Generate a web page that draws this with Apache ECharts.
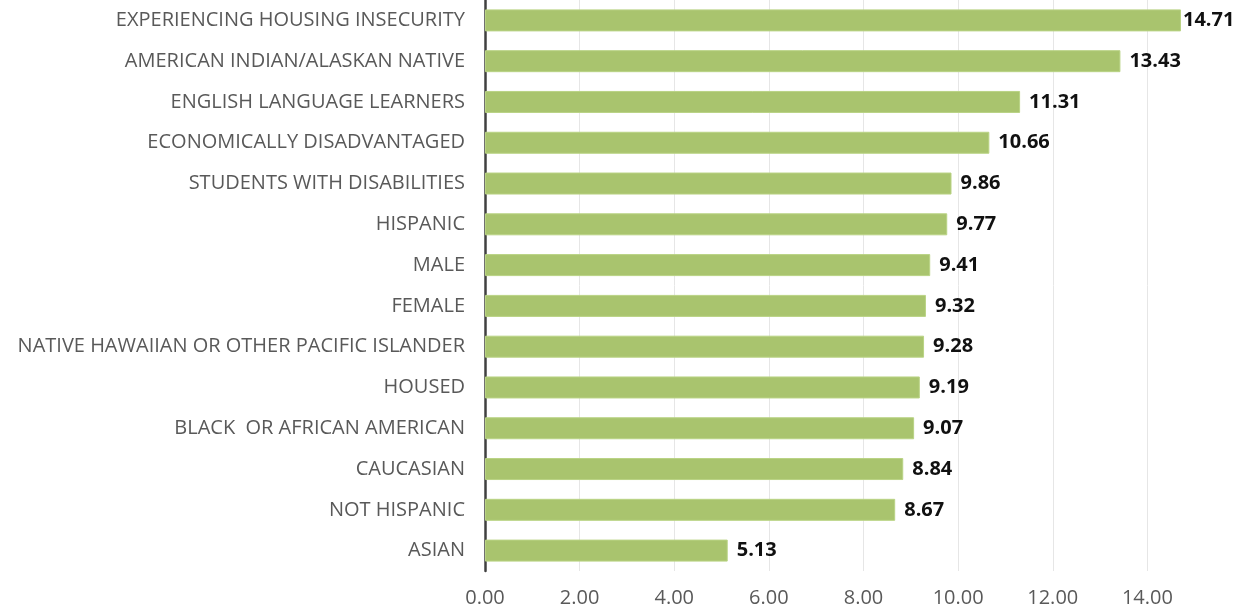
<!DOCTYPE html>
<html>
<head>
<meta charset="utf-8">
<script src="https://cdn.jsdelivr.net/npm/echarts@6/dist/echarts.min.js"></script>
<style>
  html, body { margin: 0; padding: 0; background: #ffffff; overflow: hidden; }
  /* the canvas is slightly wider than the page, so the last gridline at 16.00 falls just off-screen */
  #chart { width: 1243px; height: 614px; }
</style>
</head>
<body>
<div id="chart"></div>
<script>
// Student groups, listed top to bottom
const categories = [
  'EXPERIENCING HOUSING INSECURITY',
  'AMERICAN INDIAN/ALASKAN NATIVE',
  'ENGLISH LANGUAGE LEARNERS',
  'ECONOMICALLY DISADVANTAGED',
  'STUDENTS WITH DISABILITIES',
  'HISPANIC',
  'MALE',
  'FEMALE',
  'NATIVE HAWAIIAN OR OTHER PACIFIC ISLANDER',
  'HOUSED',
  'BLACK  OR AFRICAN AMERICAN',
  'CAUCASIAN',
  'NOT HISPANIC',
  'ASIAN'
];

const values = [14.71, 13.43, 11.31, 10.66, 9.86, 9.77, 9.41, 9.32, 9.28, 9.19, 9.07, 8.84, 8.67, 5.13];

const axisMin = 0;
const axisMax = 16;
const axisStep = 2;

const chart = echarts.init(document.getElementById('chart'), null, { renderer: 'canvas' });

const maxValue = Math.max.apply(null, values);
const seriesData = values.map(function (v) {
  // the longest bar sits close to the edge, so its label hugs the bar end
  return v === maxValue ? { value: v, label: { distance: 2 } } : { value: v };
});

chart.setOption({
  animation: false,
  backgroundColor: '#ffffff',
  grid: { left: 485, right: 1, top: 0, bottom: 43, containLabel: false },
  xAxis: {
    type: 'value',
    min: axisMin,
    max: axisMax,
    interval: axisStep,
    axisLine: { show: false },
    axisTick: { show: false },
    splitLine: { show: true, lineStyle: { color: '#e6e6e6', width: 1 } },
    axisLabel: {
      showMaxLabel: false,
      color: '#595959',
      fontFamily: 'Open Sans',
      fontSize: 20,
      margin: 17,
      formatter: function (v) { return v.toFixed(2); }
    }
  },
  yAxis: {
    type: 'category',
    data: categories,
    inverse: true,
    axisLine: { show: true, lineStyle: { color: '#404040', width: 2.5 } },
    axisTick: { show: false },
    splitLine: { show: false },
    axisLabel: {
      color: '#595959',
      fontFamily: 'Open Sans',
      fontSize: 20,
      margin: 20
    }
  },
  series: [{
    type: 'bar',
    data: seriesData,
    barWidth: 22,
    itemStyle: { color: '#a9c46e', borderColor: '#b9d384', borderWidth: 1 },
    label: {
      show: true,
      position: 'right',
      distance: 9,
      color: '#111111',
      fontFamily: 'Open Sans',
      fontWeight: 'bold',
      fontSize: 20,
      formatter: function (p) { return p.value.toFixed(2); }
    }
  }]
});
</script>
</body>
</html>
